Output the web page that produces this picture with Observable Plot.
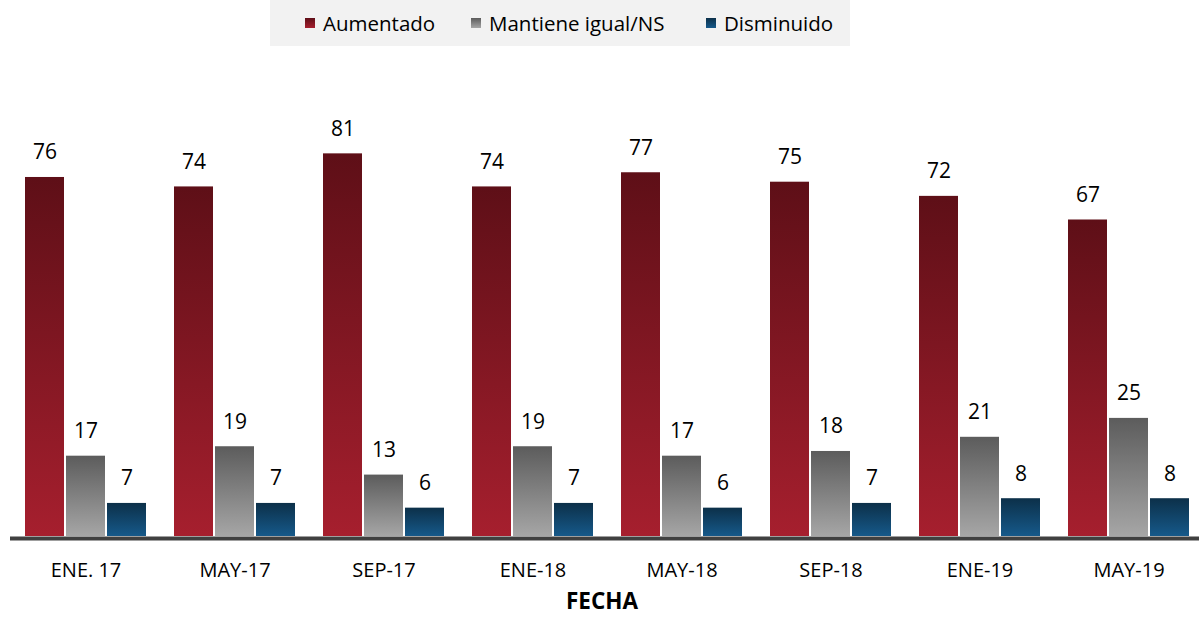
<!DOCTYPE html>
<html>
<head>
<meta charset="utf-8">
<script src="https://cdn.jsdelivr.net/npm/d3@7"></script>
<script src="https://cdn.jsdelivr.net/npm/@observablehq/plot@0.6"></script>
<style>
  html, body { margin: 0; padding: 0; background: #ffffff; width: 1199px; height: 617px; overflow: hidden; font-family: "Open Sans", sans-serif; position: relative; }
  #legend { position: relative; height: 46px; }
  #legend .box { position: absolute; left: 270px; top: 0; width: 580px; height: 46px; background: #f2f2f2; }
  #legend .item { position: absolute; top: 0; height: 46px; display: flex; align-items: center; font-size: 20.5px; color: #000; }
  #legend .sw { width: 10px; height: 10px; margin-right: 8px; }
  #chart svg { display: block; }
  #xlabel { position: absolute; left: 0; width: 1199px; top: 590px; height: 22px; line-height: 22px; text-align: center; font-weight: bold; font-size: 22.5px; color: #000; padding-left: 5px; box-sizing: border-box; }
</style>
</head>
<body>
<div id="legend"><div class="box"></div></div>
<div id="chart"></div>
<div id="xlabel">FECHA</div>
<script>
// Data
const fechas = ["ENE. 17", "MAY-17", "SEP-17", "ENE-18", "MAY-18", "SEP-18", "ENE-19", "MAY-19"];
const series = ["Aumentado", "Mantiene igual/NS", "Disminuido"];
const aumentado = [76, 74, 81, 74, 77, 75, 72, 67];
const mantiene = [17, 19, 13, 19, 17, 18, 21, 25];
const disminuido = [7, 7, 6, 7, 6, 7, 8, 8];
const xTitle = "FECHA";

const gradients = [
  {id: "g-red", top: "#5e0f17", bottom: "#a61f2e"},
  {id: "g-gray", top: "#5c5c5c", bottom: "#a6a6a6"},
  {id: "g-blue", top: "#0c3049", bottom: "#16598a"}
];

const valuesBySeries = [aumentado, mantiene, disminuido];
const tables = valuesBySeries.map((vals, s) =>
  fechas.map((f, i) => ({fecha: f, serie: series[s], value: vals[i]}))
);

// legend
const legend = document.getElementById("legend");
const legendLeft = [305, 471, 706];
series.forEach((s, i) => {
  const it = document.createElement("div");
  it.className = "item";
  it.style.left = legendLeft[i] + "px";
  const sw = document.createElement("span");
  sw.className = "sw";
  sw.style.background = `linear-gradient(${gradients[i].top}, ${gradients[i].bottom})`;
  it.appendChild(sw);
  const t = document.createElement("span");
  t.textContent = s;
  it.appendChild(t);
  legend.appendChild(it);
});

const W = 1199, H = 546, y0 = 490;
const pxPerUnit = 4.724;
const insets = [[1, 83], [42, 42], [83, 1]];
const offsets = [-41, 0, 41];

const marks = [];
tables.forEach((tbl, s) => {
  marks.push(Plot.barY(tbl, {
    x: "fecha", y: "value",
    fill: `url(#${gradients[s].id})`,
    insetLeft: insets[s][0], insetRight: insets[s][1]
  }));
});
tables.forEach((tbl, s) => {
  marks.push(Plot.text(tbl, {
    x: "fecha", y: "value", text: d => String(d.value),
    dx: offsets[s], dy: -18, lineAnchor: "bottom",
    fontSize: 21, fill: "#000"
  }));
});
marks.push(Plot.ruleY([0], {stroke: "#404040", strokeWidth: 4, dy: 2}));
marks.push(Plot.axisX({tickSize: 0, tickPadding: 26, fontSize: 20, label: null, color: "#000"}));

const chart = Plot.plot({
  width: W,
  height: H,
  marginLeft: 10,
  marginRight: 0,
  marginTop: 0,
  marginBottom: H - y0,
  style: {fontFamily: "'Open Sans', sans-serif", background: "transparent", color: "#000", overflow: "visible"},
  x: {domain: fechas, range: [24, 1190], paddingInner: 26 / 149, paddingOuter: 0, label: null},
  y: {domain: [0, 100], range: [y0, y0 - 100 * pxPerUnit], axis: null},
  marks
});

// gradient definitions
const ns = "http://www.w3.org/2000/svg";
const defs = document.createElementNS(ns, "defs");
gradients.forEach(g => {
  const lg = document.createElementNS(ns, "linearGradient");
  lg.setAttribute("id", g.id);
  lg.setAttribute("x1", "0"); lg.setAttribute("y1", "0");
  lg.setAttribute("x2", "0"); lg.setAttribute("y2", "1");
  [[0, g.top], [1, g.bottom]].forEach(([o, c]) => {
    const st = document.createElementNS(ns, "stop");
    st.setAttribute("offset", o);
    st.setAttribute("stop-color", c);
    lg.appendChild(st);
  });
  defs.appendChild(lg);
});
chart.insertBefore(defs, chart.firstChild);
document.getElementById("chart").appendChild(chart);
document.getElementById("xlabel").textContent = xTitle;
</script>
</body>
</html>
